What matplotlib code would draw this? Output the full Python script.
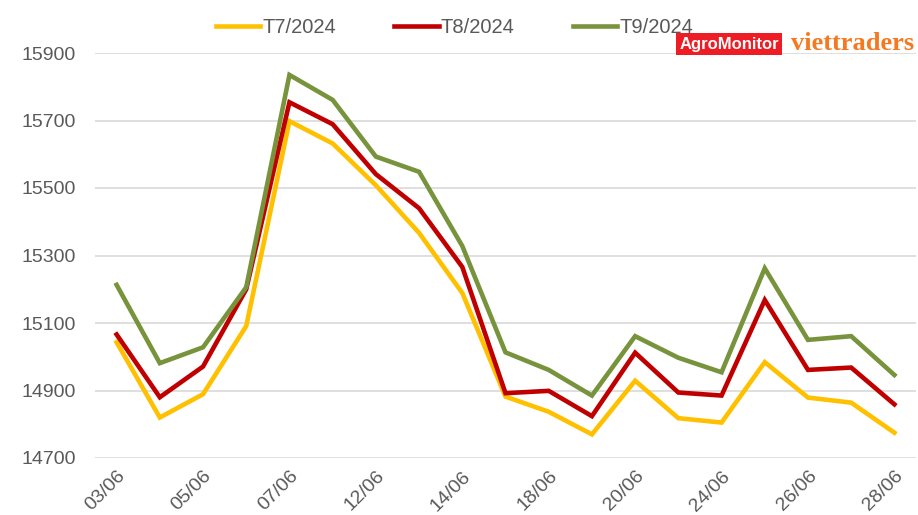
import matplotlib.pyplot as plt

# ====== DATA =======
dates = ["03/06", "04/06", "05/06", "06/06", "07/06", "10/06", "12/06", "13/06", "14/06", "17/06",
         "18/06", "19/06", "20/06", "21/06", "24/06", "25/06", "26/06", "27/06", "28/06"]
t7 = [15043, 14820, 14889, 15091, 15698, 15632, 15508, 15367, 15189, 14882,
      14837, 14770, 14929, 14818, 14805, 14984, 14879, 14864, 14775]
t8 = [15066, 14880, 14971, 15200, 15754, 15689, 15541, 15440, 15266, 14892,
      14899, 14824, 15012, 14894, 14885, 15168, 14961, 14968, 14859]
t9 = [15213, 14981, 15028, 15206, 15835, 15761, 15593, 15548, 15328, 15013,
      14961, 14885, 15061, 14997, 14954, 15262, 15050, 15061, 14946]
series_names = ["T7/2024", "T8/2024", "T9/2024"]
y_ticks = [14700, 14900, 15100, 15300, 15500, 15700, 15900]

# ====== STYLE =======
plt.rcParams['font.family'] = ['Liberation Sans', 'DejaVu Sans']
text_color = "#595959"
colors = ["#FFC000", "#C00000", "#77933C"]

fig = plt.figure(figsize=(9.18, 5.15), dpi=100)
ax = fig.add_axes([95 / 918, 1 - 458 / 515, (916 - 95) / 918, (458 - 53) / 515])

x = list(range(len(dates)))
for vals, name, c in zip([t7, t8, t9], series_names, colors):
    ax.plot(x, vals, color=c, lw=3.3, label=name, solid_joinstyle='miter')

ax.set_xlim(-0.5, len(dates) - 0.5)
ax.set_ylim(14700, 15900)
ax.set_yticks(y_ticks)
ax.set_yticklabels([str(v) for v in y_ticks], fontsize=14, color=text_color)
ax.set_xticks(x[::2])
ax.set_xticklabels(dates[::2], fontsize=14, color=text_color, rotation=45,
                   ha='right', va='top', rotation_mode='anchor')
ax.tick_params(axis='both', length=0)
ax.tick_params(axis='y', pad=14)
ax.tick_params(axis='x', pad=7)
ax.grid(axis='y', color="#D9D9D9", lw=1.2)
ax.set_axisbelow(True)
for s in ax.spines.values():
    s.set_visible(False)

leg = fig.legend(loc='upper center', bbox_to_anchor=(0.495, 1.0), ncol=3, frameon=False,
                 fontsize=14.5, handlelength=2.2, handletextpad=0.1, columnspacing=2.9)
for t in leg.get_texts():
    t.set_color(text_color)

# logo
fig.text(729 / 918, 1 - 44 / 515, "AgroMonitor", color="white", fontsize=12, fontweight='bold',
         ha='center', va='center',
         bbox=dict(boxstyle='square,pad=0.22', fc="#EE1C25", ec="none"))
fig.text(853 / 918, 1 - 43 / 515, "viettraders", color="#F47920", fontsize=19, fontweight='bold',
         family='Liberation Serif', ha='center', va='center')

plt.savefig("out.png", dpi=100)
plt.close()
